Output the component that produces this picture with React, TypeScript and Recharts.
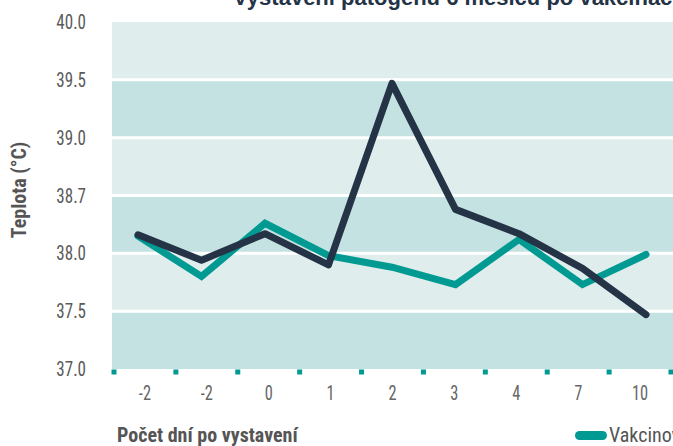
import React from 'react';
import { LineChart, Line, XAxis, YAxis, ReferenceArea, ReferenceLine } from 'recharts';

const days = ['-2', '-2', '0', '1', '2', '3', '4', '7', '10'];
const vaccinated = [38.15, 37.8, 38.26, 37.98, 37.88, 37.73, 38.12, 37.73, 37.99];
const unvaccinated = [38.16, 37.94, 38.17, 37.9, 39.47, 38.38, 38.17, 37.87, 37.47];
const yTicks = [37, 37.5, 38, 38.5, 39, 39.5, 40];
const yTickLabels = ['37.0', '37.5', '38.0', '38.7', '39.0', '39.5', '40.0'];

const TEAL = '#009a93';
const NAVY = '#243346';
const BAND_DARK = '#c4e2e1';
const BAND_LIGHT = '#dfeeed';
const NARROW = "'Roboto Condensed', 'Liberation Sans Narrow', 'DejaVu Sans Condensed', sans-serif";

const series = [
  { key: 'vakc', name: 'Vakcinované', color: TEAL, width: 7, join: 'miter' },
  { key: 'nevakc', name: 'Nevakcinované', color: NAVY, width: 7, join: 'round' },
];

const data = days.map((d, i) => ({ idx: i, day: d, vakc: vaccinated[i], nevakc: unvaccinated[i] }));

// labels sit on whole numbers, the small marks half way between
const dayTicks = Array.from({ length: days.length * 2 + 1 }, (_, k) => k / 2 - 0.5);

const DayTick = (props: any) => {
  const { x, y, payload } = props;
  const v = payload.value;
  if (!Number.isInteger(v)) {
    return <rect x={x - 2.5} y={y + 0.5} width={5} height={5} fill={TEAL} />;
  }
  return (
    <text
      transform={`translate(${x}, ${y + 30.5}) scale(0.78, 1)`}
      textAnchor="middle"
      fill="#666"
      fontSize={21}
      fontFamily={NARROW}
    >
      {days[v]}
    </text>
  );
};

const TempTick = (props: any) => {
  const { x, y, payload } = props;
  return (
    <text
      transform={`translate(${x}, ${y}) scale(0.85, 1)`}
      dy={7}
      textAnchor="end"
      fill="#5a5a5a"
      fontSize={20}
      fontFamily={NARROW}
    >
      {yTickLabels[yTicks.indexOf(payload.value)]}
    </text>
  );
};

export default function App() {
  return (
    <div style={{ position: 'fixed', left: 0, top: 0, width: 673, height: 446, overflow: 'hidden', background: '#fff' }}>
      <div
        style={{
          position: 'absolute', left: 233, top: -15, whiteSpace: 'nowrap',
          fontFamily: "'Liberation Sans', Arial, sans-serif", fontWeight: 700, fontSize: 22, color: NAVY,
        }}
      >
        Vystavení patogenu 6 měsíců po vakcinaci
      </div>

      <LineChart width={720} height={446} data={data} margin={{ top: 22, right: 20, bottom: 47, left: 0 }}>
        <XAxis xAxisId="full" type="number" dataKey="idx" domain={[0, days.length - 1]} hide />
        <XAxis xAxisId="pts" type="number" dataKey="idx" domain={[0, days.length - 1]} padding={{ left: 26, right: 54 }} hide />
        <XAxis
          xAxisId="cat"
          type="number"
          dataKey="idx"
          domain={[-0.5, days.length - 0.5]}
          ticks={dayTicks}
          interval={0}
          allowDataOverflow
          padding={{ left: 2, right: 29 }}
          axisLine={false}
          tickLine={false}
          tickSize={0}
          tickMargin={0}
          height={30}
          tick={<DayTick />}
        />
        <YAxis
          type="number"
          domain={[37, 40]}
          ticks={yTicks}
          interval={0}
          width={112}
          axisLine={false}
          tickLine={false}
          tickSize={0}
          tickMargin={26}
          tick={<TempTick />}
        />
        {yTicks.slice(0, -1).map((v, k) => (
          <ReferenceArea
            key={`band-${k}`}
            xAxisId="full"
            y1={v}
            y2={yTicks[k + 1]}
            fill={k % 2 === 0 ? BAND_DARK : BAND_LIGHT}
            fillOpacity={1}
            stroke="none"
          />
        ))}
        {yTicks.slice(1, -1).map((v) => (
          <ReferenceLine key={`sep-${v}`} xAxisId="full" y={v} stroke="#fff" strokeWidth={3} />
        ))}
        {series.map((s) => (
          <Line
            key={s.key}
            xAxisId="pts"
            type="linear"
            dataKey={s.key}
            name={s.name}
            stroke={s.color}
            strokeWidth={s.width}
            strokeLinecap="round"
            strokeLinejoin={s.join as any}
            dot={false}
            activeDot={false}
            isAnimationActive={false}
          />
        ))}
      </LineChart>

      <div
        style={{
          position: 'absolute', left: 19, top: 190, transform: 'translate(-50%, -50%) rotate(-90deg)',
          whiteSpace: 'nowrap', fontFamily: NARROW, fontWeight: 700, fontSize: 20, color: '#555',
        }}
      >
        Teplota (°C)
      </div>
      <div
        style={{
          position: 'absolute', left: 117, top: 424, whiteSpace: 'nowrap',
          fontFamily: NARROW, fontWeight: 700, fontSize: 20, color: '#555', lineHeight: '22px',
        }}
      >
        Počet dní po vystavení
      </div>
      <div style={{ position: 'absolute', left: 575, top: 424, display: 'flex', whiteSpace: 'nowrap', lineHeight: '22px' }}>
        {series.map((s) => (
          <div key={s.key} style={{ display: 'flex', alignItems: 'center', marginRight: 16 }}>
            <span style={{ display: 'inline-block', width: 32, height: 9, borderRadius: 5, background: s.color, marginRight: 2 }} />
            <span style={{ fontFamily: NARROW, fontSize: 20, color: '#555' }}>{s.name}</span>
          </div>
        ))}
      </div>
    </div>
  );
}
